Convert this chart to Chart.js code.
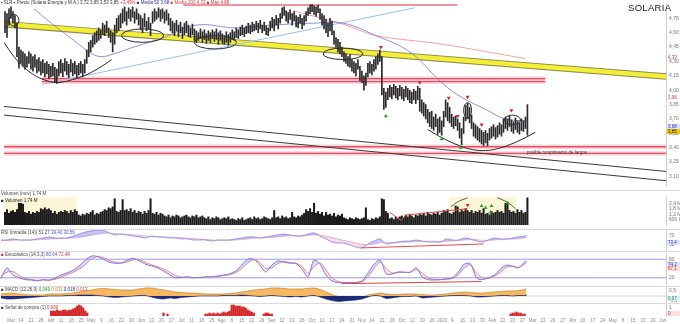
<!DOCTYPE html>
<html><head><meta charset="utf-8">
<script src="https://cdn.jsdelivr.net/npm/chart.js@4.4.1/dist/chart.umd.min.js"></script>
<style>
html,body{margin:0;padding:0;background:#fff;}
body{width:680px;height:324px;position:relative;overflow:hidden;font-family:"Liberation Sans",Arial,sans-serif;}
canvas{position:absolute;left:0;}
.t{position:absolute;white-space:nowrap;line-height:1;color:#444;font-size:4.5px;z-index:5}
.sep{position:absolute;left:0;width:680px;height:1px;background:#dadada;z-index:1}
.lab{position:absolute;left:667px;width:13px;font-size:4.5px;line-height:5px;z-index:6;padding-left:1px}
</style></head><body>
<canvas id="cMain" width="680" height="190" style="top:0"></canvas>
<canvas id="cVol" width="680" height="39" style="top:190px"></canvas>
<canvas id="cRsi" width="680" height="22" style="top:229px"></canvas>
<canvas id="cSto" width="680" height="35" style="top:251px"></canvas>
<canvas id="cMacd" width="680" height="17" style="top:286px"></canvas>
<canvas id="cSig" width="680" height="21" style="top:303px"></canvas>
<div class="sep" style="top:190px"></div>
<div class="sep" style="top:229px"></div>
<div class="sep" style="top:251px"></div>
<div class="sep" style="top:286px"></div>
<div class="sep" style="top:303px"></div>

<div class="t" style="left:1px;top:1px"><span style="color:#333">▪ SLR ▪ Precio (Solaria Energía y M.A.) 3,72 3,85 3,53 3,85</span> <span style="color:#d03838">+3,49%</span> <span style="color:#2a2a9a">■ Media 50 3,68</span> <span style="color:#d04848">■ Media 200 4,33</span> <span style="color:#d03030">■ Máx 4,89</span></div>
<div class="t" style="left:628px;top:3px;font-size:9.5px;color:#222;letter-spacing:0.3px">SOLARIA</div>
<div class="t" style="left:527px;top:151px;font-size:4.5px;color:#333">posible rompimiento de largos</div>
<div class="t" style="left:1px;top:192px">Volumen (mov) 1,74 M</div>
<div class="t" style="left:1px;top:199px;color:#222">■ Volumen 1,74 M</div>
<div class="t" style="left:1px;top:231px">RSI (Intradía (14)) 51,27 <span style="color:#5050d0">39,40 30,56</span></div>
<div class="t" style="left:1px;top:253px"><span style="color:#c03030">■</span> Estocástico (14,3,3) <span style="color:#5050d0">80,64</span> <span style="color:#d04040">72,48</span></div>
<div class="t" style="left:1px;top:288px">■ MACD (12,26,9) <span style="color:#2a9a2a">0,049</span> <span style="color:#d08020">0,031</span> <span style="color:#2a2a9a">0,018</span> <span style="color:#d04040">0,013</span></div>
<div class="t" style="left:1px;top:306px">■ Señal de compra (1) <span style="color:#d03030">0,000</span></div>

<div class="lab" style="top:55px;color:#d03838">4,33</div>
<div class="lab" style="top:95px;color:#d03838">3,96</div>
<div class="lab" style="top:124px;color:#3030c0;background:#e0e4ff">3,68</div>
<div class="lab" style="top:129px;color:#222;background:#f2c800">3,85</div>
<div class="lab" style="top:240px;color:#3030c0;background:#e0e4ff">73,4</div>
<div class="lab" style="top:262px;color:#3030c0;background:#e0e4ff">74,2</div>
<div class="lab" style="top:266px;color:#c03030;background:#ffe0e0">67,1</div>
<div class="lab" style="top:296px;color:#208080;background:#d8f4f4">0,07</div>
<div class="lab" style="top:311px;color:#c03030;background:#ffe0e0">0</div>

<script>
// ---------- DATA ----------
const weekIdx = Array.from({length:66},(_,k)=>5+5*k);
const weekLabels = ["Mar","14","21","28","Abr","11","18","25","May","9","16","23","30","Jun","13","20","27","Jul","11","18","25","Ago","8","15","22","29","Sep","12","19","26","Oct","10","17","24","31","Nov","14","21","28","Dic","12","19","26","2023","9","16","23","30","Feb","13","20","27","Mar","13","20","27","Abr","10","17","24","May","8","15","22","29","Jun"];

const priceHigh = [
4.82,4.80,4.85,4.87,4.82,4.78,4.70,4.45,4.42,4.40,
4.38,4.35,4.40,4.38,4.35,4.37,4.32,4.34,4.30,4.32,
4.28,4.30,4.27,4.25,4.28,4.24,4.22,4.30,4.32,4.28,
4.33,4.30,4.27,4.32,4.28,4.30,4.26,4.28,4.30,4.27,
4.32,4.42,4.50,4.52,4.57,4.60,4.62,4.65,4.63,4.70,
4.68,4.72,4.65,4.62,4.60,4.68,4.75,4.78,4.80,4.85,
4.87,4.82,4.86,4.84,4.87,4.82,4.85,4.80,4.78,4.75,
4.80,4.72,4.76,4.70,4.82,4.85,4.82,4.86,4.84,4.85,
4.82,4.84,4.80,4.75,4.72,4.70,4.73,4.68,4.71,4.66,
4.70,4.72,4.68,4.65,4.69,4.64,4.62,4.60,4.64,4.61,
4.63,4.59,4.62,4.60,4.63,4.61,4.64,4.60,4.62,4.59,
4.57,4.61,4.58,4.60,4.63,4.61,4.65,4.63,4.66,4.68,
4.65,4.67,4.70,4.68,4.71,4.69,4.72,4.70,4.73,4.68,
4.71,4.67,4.65,4.72,4.76,4.74,4.78,4.75,4.80,4.86,
4.87,4.83,4.81,4.84,4.80,4.82,4.78,4.76,4.79,4.75,
4.78,4.82,4.86,4.89,4.90,4.88,4.87,4.89,4.85,4.80,
4.78,4.74,4.70,4.75,4.72,4.62,4.55,4.53,4.50,4.45,
4.40,4.38,4.35,4.37,4.32,4.30,4.28,4.32,4.25,4.20,
4.15,4.18,4.28,4.30,4.27,4.32,4.35,4.38,4.42,4.35,
4.02,3.98,4.02,4.05,4.03,4.06,4.04,4.02,4.05,4.03,
4.01,4.04,4.02,4.00,3.98,4.01,3.99,4.04,4.02,3.90,
3.87,3.85,3.80,3.77,3.78,3.72,3.75,3.70,3.72,3.68,
3.78,3.90,3.87,3.82,3.75,3.72,3.73,3.70,3.66,3.60,
3.72,3.84,3.86,3.82,3.74,3.66,3.64,3.62,3.60,3.58,
3.56,3.58,3.55,3.60,3.62,3.64,3.61,3.63,3.66,3.64,
3.70,3.72,3.70,3.73,3.69,3.67,3.71,3.68,3.66,3.70,
3.68,3.72,3.85];
const priceLow = [
4.60,4.55,4.68,4.75,4.70,4.65,4.35,4.23,4.28,4.25,
4.22,4.24,4.28,4.22,4.20,4.24,4.18,4.20,4.16,4.18,
4.14,4.17,4.12,4.14,4.15,4.08,4.07,4.15,4.18,4.14,
4.20,4.16,4.13,4.19,4.15,4.17,4.13,4.16,4.18,4.14,
4.18,4.28,4.35,4.40,4.45,4.48,4.50,4.52,4.54,4.58,
4.57,4.60,4.55,4.50,4.40,4.48,4.60,4.62,4.65,4.70,
4.72,4.68,4.75,4.72,4.76,4.70,4.74,4.68,4.63,4.60,
4.66,4.62,4.64,4.57,4.70,4.72,4.74,4.76,4.72,4.75,
4.70,4.73,4.68,4.62,4.60,4.57,4.62,4.56,4.60,4.54,
4.58,4.60,4.56,4.55,4.58,4.52,4.50,4.52,4.54,4.50,
4.53,4.49,4.52,4.50,4.54,4.51,4.53,4.48,4.52,4.49,
4.48,4.50,4.47,4.50,4.53,4.52,4.55,4.54,4.57,4.58,
4.56,4.59,4.60,4.59,4.61,4.62,4.63,4.60,4.64,4.60,
4.62,4.58,4.57,4.62,4.65,4.62,4.68,4.64,4.70,4.75,
4.78,4.72,4.70,4.74,4.68,4.72,4.66,4.65,4.70,4.64,
4.68,4.72,4.78,4.80,4.82,4.79,4.77,4.81,4.74,4.68,
4.64,4.60,4.56,4.62,4.58,4.48,4.45,4.40,4.38,4.35,
4.30,4.28,4.25,4.24,4.20,4.18,4.15,4.22,4.10,4.08,
4.00,4.05,4.14,4.18,4.16,4.20,4.22,4.27,4.30,3.95,
3.80,3.82,3.90,3.93,3.91,3.95,3.92,3.90,3.94,3.91,
3.89,3.93,3.90,3.87,3.86,3.90,3.86,3.90,3.78,3.76,
3.73,3.70,3.66,3.62,3.60,3.58,3.62,3.54,3.56,3.53,
3.62,3.72,3.68,3.66,3.62,3.60,3.63,3.58,3.50,3.43,
3.55,3.68,3.70,3.66,3.60,3.52,3.50,3.48,3.46,3.44,
3.42,3.45,3.42,3.48,3.50,3.52,3.49,3.51,3.54,3.52,
3.56,3.60,3.58,3.62,3.57,3.55,3.59,3.56,3.54,3.58,
3.57,3.60,3.53];
// volume in units of 100K shares
const volume = [
14,17,13,15,16,14,17,24,24,23,
14,13,15,12,14,13,15,14,18,17,
19,17,18,16,13,15,12,14,15,14,
16,15,13,16,14,17,15,11,10,12,
11,13,12,14,16,11,13,12,14,15,
17,16,19,18,20,29,15,14,16,28,
16,17,15,18,14,16,13,15,14,12,
15,13,16,29,13,12,14,11,13,12,
10,9,11,8,10,9,11,10,8,9,
10,11,9,8,10,9,11,8,9,10,
8,7,9,6,8,7,9,8,6,7,
8,7,9,6,7,6,5,7,6,8,
5,6,7,8,6,9,7,8,6,7,
9,8,7,6,8,16,8,9,7,10,
8,9,7,8,14,9,8,10,9,11,
13,17,15,18,14,24,13,15,12,14,
10,14,11,12,10,13,9,11,10,12,
8,7,6,8,7,6,8,7,6,7,
8,19,6,5,7,6,8,7,9,29,
28,15,13,7,8,6,9,7,9,10,
8,11,9,12,10,8,11,10,12,11,
13,10,14,12,11,13,12,14,11,13,
16,15,17,13,12,14,21,20,14,17,
15,18,16,14,16,13,15,14,16,13,
18,12,13,11,15,13,14,16,14,15,
13,24,25,16,14,15,13,17,14,16,
13,14,30];

// moving averages (sampled)
const ma50Idx = [14.5,22,29.5,37,42,48,54.5,64.5,79.5,96,116,134.5,154.5,169.5,186,203,219.5,229.5,241,251,262];
const ma50 = [4.85,4.72,4.60,4.48,4.40,4.35,4.38,4.45,4.55,4.68,4.65,4.68,4.70,4.70,4.57,4.40,4.07,3.92,3.80,3.70,3.68];
const ma200Idx = [144.5,169.5,186,219.5,261];
const ma200 = [4.83,4.69,4.57,4.48,4.33];

// drawn studies (trendlines, levels, arcs)
const yellowIdx = [-0.5,333.5], yellowVal = [4.69,4.14];
const blueTrendIdx = [18.5,205.5], blueTrendVal = [4.06,4.86];
const channelIdx = [-0.5,331.5], channelUp = [3.83,3.152], channelLow = [3.74,3.055];
const resIdx = [18.5,271], resHi = 4.12, resLo = 4.09;
const supIdx = [-0.5,331.5], supHi = 3.41, supLo = 3.34;
const topLineIdx = [89.5,227], topLineVal = 4.89;
const arcLIdx = [-0.5,4.5,9.5,14.5,19.5,25.5,32,39.5,47,53.5];
const arcLVal = [4.50,4.35,4.24,4.16,4.11,4.08,4.10,4.15,4.23,4.32];
const arcRIdx = [212,219.5,228,234.5,241,247,253,259.5,266];
const arcRVal = [3.59,3.50,3.42,3.38,3.37,3.39,3.43,3.49,3.56];
// ellipses: [centre index, centre price, half width (bars), half height (price)]
const ellipses = [[69,4.57,10.5,0.07],[105.5,4.50,10.5,0.07],[169.5,4.38,10,0.06],[4.5,4.73,2.5,0.06],[254.5,3.69,4,0.05],[232,3.79,2,0.08]];
const sellIdx = [188.5,208,222.5,232,227,239,254];
const sellVal = [4.45,4.08,3.92,3.93,3.73,3.64,3.79];
const buyIdx = [191,219,228.5];
const buyVal = [3.73,3.49,3.40];
const priceTicks = [3.10,3.25,3.40,3.55,3.70,3.85,4.00,4.15,4.30,4.45,4.60,4.75];

// volume studies
const volBoxes = [[-0.5,36,14,31],[223,256,6,31]];
const volRedIdx = [193,198.5,201,232], volRedVal = [14,5,11,18];
const volArc1Idx = [223.5,227.5,232], volArc1Val = [20,26,30];
const volArc2Idx = [247,252,256], volArc2Val = [30,25,18];
const volSellIdx = [232], volSellVal = [22];
const volBuyIdx = [239,241,244,243.5,252], volBuyVal = [21,19,21,14,24];

// oscillators sampled every 3 sessions
const oscIdx = Array.from({length:88},(_,k)=>k*3).concat([262]);
const rsi = [
50,50,55,50,50,50,55,59,64,59,
59,59,68,77,86,91,95,95,82,73,
77,73,68,64,59,68,64,64,59,59,
55,55,50,50,50,45,50,50,50,55,
59,64,64,59,64,68,73,77,73,68,
68,77,82,68,55,41,36,36,27,18,
14,32,45,55,32,36,41,45,45,50,
45,41,41,41,55,50,50,59,55,45,
41,50,59,55,55,59,64,68,73];
const rsiSignal = [
48,48,49,50,50,50,51,52,54,56,
57,58,59,62,66,71,76,80,81,79,
77,75,73,71,68,66,65,64,63,62,
60,58,56,54,52,50,49,49,49,50,
52,55,58,59,60,62,64,67,69,69,
69,71,73,72,67,61,54,48,42,36,
30,29,32,37,38,38,39,40,41,43,
44,44,43,42,44,46,47,50,52,51,
49,48,50,52,53,54,56,59,61];
const rsiTrendIdx = [179.5,240.5], rsiTrendVal = [14,32];
const stochK = [
17,52,29,20,14,13,10,14,12,19,
29,36,45,58,77,90,89,80,70,67,
68,77,83,74,64,58,52,42,30,20,
21,23,20,21,23,23,26,29,33,42,
61,80,80,61,39,61,74,71,67,66,
48,23,77,64,29,10,4,4,4,5,
10,36,64,77,33,32,39,38,38,52,
23,14,13,14,17,20,39,64,65,20,
14,20,29,48,61,57,52,71,74];
const stochD = [
25,38,40,27,18,15,12,13,13,15,
22,30,38,48,62,80,88,85,76,70,
67,71,78,78,70,62,56,48,38,27,
22,22,21,21,22,23,24,27,30,37,
50,68,78,70,50,52,66,72,69,67,
57,35,55,69,45,20,8,5,4,5,
7,24,50,70,50,36,37,38,38,46,
35,20,15,14,15,18,30,52,62,35,
20,18,25,38,54,58,54,64,67];
const stochLevels = [80,20];
const stochTrendIdx = [169.5,239.5], stochTrendVal = [1,8];
const macd = [
0.2,0.25,0.3,0.2,0.15,0.1,0.1,0.1,0.2,0.2,
0.2,0.25,0.3,0.4,0.5,0.6,0.7,0.75,0.7,0.65,
0.6,0.6,0.6,0.7,0.8,0.8,0.7,0.6,0.5,0.4,
0.35,0.3,0.3,0.25,0.2,0.2,0.2,0.2,0.25,0.3,
0.4,0.5,0.6,0.65,0.7,0.8,0.8,0.75,0.7,0.7,
0.7,0.75,0.8,0.65,0.4,0.15,-0.05,-0.15,-0.2,-0.2,
-0.15,0.1,0.2,0.3,0.2,0.15,0.15,0.2,0.2,0.2,
0.15,0.1,0.1,0.15,0.2,0.3,0.35,0.4,0.35,0.3,
0.3,0.35,0.4,0.45,0.5,0.5,0.55,0.65,0.7];
const macdHist = [
-0.2,-0.3,-0.3,-0.25,-0.2,-0.15,-0.1,-0.05,0,0,
0,0.05,0.05,0.1,0.1,0.1,0.05,0,-0.1,-0.15,
-0.1,-0.05,0,0.05,0.05,-0.1,-0.25,-0.3,-0.2,-0.25,
-0.15,-0.1,-0.05,0,0,0,0,0.05,0.05,0.05,
0.1,0.05,0,-0.05,0,0.05,0,-0.05,-0.1,-0.05,
-0.1,0,0.05,-0.1,-0.3,-0.45,-0.55,-0.5,-0.45,-0.4,
-0.3,-0.1,0.05,0,-0.25,-0.2,-0.1,-0.05,-0.05,0,
-0.2,-0.15,-0.1,-0.05,0,0.05,0.05,0.05,0,-0.1,
-0.1,-0.05,0,0.05,0.05,0,0.05,0.05,0.1];
const sigIdx = [25,26,27,28,29,30,31,32,33,34,35,36,37,38,39,40,41,42,43,81,83,
102,103,104,105,106,107,108,109,110,111,112,113,114,115,116,117,118,119,120,121,122,123,124,125,126,
131,132,133,134,135,254,255,256,257,258,259,260,261];
const sigVal = [5,5,5,6,5,5,6,6,5,6,6,7,8,10,11,10,8,5,3,3,2,
2,2,3,2,3,2,3,2,3,4,3,4,5,11,11,10,10,10,9,9,8,6,5,4,3,
2,3,3,2,2,2,3,3,4,3,3,2,2];

// ---------- HELPERS ----------
const FONT = {size:5, family:'Liberation Sans'};
const xy = (xs, ys) => xs.map((x,k)=>({x, y: Array.isArray(ys) ? ys[k] : ys}));
function xScale(show){
  return {type:'linear', min:-0.5, max:331.5, offset:false, display:show,
    grid:{display:false, drawTicks:false}, border:{display:false},
    afterBuildTicks:s=>{ s.ticks = weekIdx.map(v=>({value:v})); },
    ticks:{autoSkip:false, maxRotation:0, minRotation:0, font:{size:4.5, family:'Liberation Sans'}, color:'#8a8a8a', padding:2,
      callback:(v)=>{ const k = weekIdx.indexOf(v); return k>=0 ? weekLabels[k] : ''; }},
    afterFit:s=>{ s.paddingLeft=0; s.paddingRight=0; if(show) s.height=8; }};
}
function yScale(min, max, ticks, fmt){
  return {position:'right', min, max, grid:{display:false, drawTicks:false}, border:{display:true, color:'#cfcfcf'},
    afterBuildTicks:s=>{ s.ticks = ticks.map(v=>({value:v})); },
    ticks:{font:FONT, color:'#777', padding:3, autoSkip:false, callback:fmt},
    afterFit:s=>{ s.width=14; s.paddingTop=0; s.paddingBottom=0; }};
}
const comma = (v,d)=>Number(v).toFixed(d).replace('.',',');
function base(scales, padding, plugins){
  return {responsive:false, animation:false, events:[], layout:{padding:Object.assign({left:0,right:0,top:0,bottom:0},padding||{})},
    plugins:Object.assign({legend:{display:false}, tooltip:{enabled:false}}, plugins||{}), scales};
}
const line = (pts, color, width, order, extra) => Object.assign({type:'line', data:pts, borderColor:color, borderWidth:width, pointRadius:0, fill:false, order, tension:0}, extra||{});

const ellipsePlugin = {id:'ellipses', afterDatasetsDraw(chart, args, opts){
  if(!opts || !opts.items) return;
  const {ctx, scales:{x,y}} = chart;
  ctx.save();
  opts.items.forEach(e=>{
    const cx = x.getPixelForValue(e[0]), cy = y.getPixelForValue(e[1]);
    const rx = Math.abs(x.getPixelForValue(e[0]+e[2])-cx), ry = Math.abs(y.getPixelForValue(e[1]+e[3])-cy);
    ctx.beginPath(); ctx.ellipse(cx, cy, rx, ry, 0, 0, Math.PI*2);
    ctx.strokeStyle = opts.color || '#222'; ctx.lineWidth = 1; ctx.stroke();
  });
  ctx.restore();
}};
const boxPlugin = {id:'boxes', beforeDatasetsDraw(chart, args, opts){
  if(!opts || !opts.items) return;
  const {ctx, scales:{x,y}} = chart;
  ctx.save(); ctx.fillStyle = opts.color || '#fbf6d8';
  opts.items.forEach(b=>{
    const x0 = x.getPixelForValue(b[0]), x1 = x.getPixelForValue(b[1]);
    const y0 = y.getPixelForValue(b[3]), y1 = y.getPixelForValue(b[2]);
    ctx.fillRect(x0, y0, x1-x0, y1-y0);
  });
  ctx.restore();
}};
Chart.register(ellipsePlugin, boxPlugin);

// ---------- MAIN PRICE PANEL ----------
new Chart(document.getElementById('cMain'), {
  type:'bar',
  data:{datasets:[
    {type:'scatter', data:xy(sellIdx, sellVal), pointStyle:'triangle', rotation:180, pointRadius:2.3, backgroundColor:'#e02020', borderWidth:0, order:1},
    {type:'scatter', data:xy(buyIdx, buyVal), pointStyle:'triangle', pointRadius:2.3, backgroundColor:'#22a022', borderWidth:0, order:1},
    line(xy(arcLIdx, arcLVal), '#2a2a2a', 1, 4, {tension:0.4}),
    line(xy(arcRIdx, arcRVal), '#2a2a2a', 1, 4, {tension:0.4}),
    {type:'bar', data:priceHigh.map((h,i)=>({x:i, y:[priceLow[i], h]})), backgroundColor:'#2a2a2a', barThickness:1, grouped:false, order:10},
    line(xy(ma50Idx, ma50), 'rgba(125,125,220,0.85)', 1, 27, {tension:0.4}),
    line(xy(ma200Idx, ma200), 'rgba(236,130,135,0.75)', 1, 28, {tension:0.3}),
    line(xy(blueTrendIdx, blueTrendVal), '#98bef0', 1, 30),
    line(xy(yellowIdx, yellowVal), '#f3ee38', 4.5, 34),
    line(xy(yellowIdx, yellowVal), '#8d8a4a', 6.5, 35),
    line(xy(channelIdx, channelUp), '#3a3a3a', 1, 40),
    line(xy(channelIdx, channelLow), '#3a3a3a', 1, 40),
    line(xy(resIdx, resHi), '#ee4a62', 1.3, 45),
    line(xy(resIdx, resLo), '#ee4a62', 1.3, 45),
    line(xy(supIdx, supHi), '#ee4a62', 1.3, 45),
    line(xy(supIdx, supLo), '#ee4a62', 1.3, 45),
    line(xy(resIdx, resHi), 'rgba(250,175,185,0.45)', 5, 50),
    line(xy(resIdx, resLo), 'rgba(250,175,185,0.45)', 5, 50),
    line(xy(supIdx, supHi), 'rgba(250,175,185,0.45)', 5, 50),
    line(xy(supIdx, supLo), 'rgba(250,175,185,0.45)', 5, 50),
    line(xy(topLineIdx, topLineVal), 'rgba(240,120,130,0.8)', 2, 46)
  ]},
  options: base({x:xScale(false), y:yScale(3.00, 4.90, priceTicks, v=>comma(v,2))}, null,
    {ellipses:{items:ellipses, color:'#2a2a2a'}})
});

// ---------- VOLUME ----------
new Chart(document.getElementById('cVol'), {
  type:'bar',
  data:{datasets:[
    {type:'scatter', data:xy(volSellIdx, volSellVal), pointStyle:'triangle', rotation:180, pointRadius:2.2, backgroundColor:'#e02020', borderWidth:0, order:1},
    {type:'scatter', data:xy(volBuyIdx, volBuyVal), pointStyle:'triangle', pointRadius:2.2, backgroundColor:'#22a022', borderWidth:0, order:1},
    line(xy(volRedIdx, volRedVal), '#e84a4a', 1, 2),
    line(xy(volArc1Idx, volArc1Val), '#333', 0.8, 2, {tension:0.4}),
    line(xy(volArc2Idx, volArc2Val), '#333', 0.8, 2, {tension:0.4}),
    {type:'bar', data:volume.map((v,i)=>({x:i, y:v})), backgroundColor:'#1c1c1c', barThickness:1.4, grouped:false, order:10}
  ]},
  options: base({x:xScale(false), y:yScale(0, 32, [6,12,18,24], v=>v<10?(v*100)+' K':comma(v/10,1)+' M')}, {top:6,bottom:1},
    {boxes:{items:volBoxes, color:'#fbf6d6'}})
});

// ---------- RSI ----------
new Chart(document.getElementById('cRsi'), {
  type:'line',
  data:{datasets:[
    line(xy(rsiTrendIdx, rsiTrendVal), '#e84a4a', 1, 1),
    line(xy(oscIdx, rsi), 'rgba(120,120,225,0.9)', 0.8, 3, {tension:0.3, fill:{target:'+1', above:'rgba(150,150,238,0.55)', below:'rgba(236,175,205,0.45)'}}),
    line(xy(oscIdx, rsiSignal), 'rgba(230,150,190,0.9)', 0.8, 4, {tension:0.3})
  ]},
  options: base({x:xScale(false), y:yScale(0, 100, [30,70], v=>String(v))})
});

// ---------- STOCHASTIC ----------
new Chart(document.getElementById('cSto'), {
  type:'line',
  data:{datasets:[
    line(xy(stochTrendIdx, stochTrendVal), '#e84040', 1, 1),
    line(xy(oscIdx, stochK), '#7676e4', 1, 2, {tension:0.3, fill:{target:'+1', above:'rgba(150,150,235,0.35)', below:'rgba(240,170,170,0.3)'}}),
    line(xy(oscIdx, stochD), '#ec8282', 1, 3, {tension:0.3}),
    line(xy([-0.5,331.5], stochLevels[0]), '#9a9ae6', 1, 5),
    line(xy([-0.5,331.5], stochLevels[1]), '#9a9ae6', 1, 5)
  ]},
  options: base({x:xScale(false), y:yScale(0, 100, [20,50,80], v=>String(v))}, {top:2,bottom:2})
});

// ---------- MACD ----------
new Chart(document.getElementById('cMacd'), {
  type:'line',
  data:{datasets:[
    line(xy(oscIdx, macdHist), '#1d2a78', 0.6, 1, {tension:0.3, fill:{target:'origin', above:'#1d2a78', below:'#1d2a78'}}),
    line(xy(oscIdx, macd), '#c98a34', 0.8, 2, {tension:0.3, fill:{target:'origin', above:'rgba(246,178,84,0.92)', below:'rgba(120,200,110,0.9)'}}),
    line(xy([-0.5,331.5], 0), '#b8b8b8', 0.6, 5)
  ]},
  options: base({x:xScale(false), y:yScale(-0.7, 1.0, [0.5,-0.5], v=>comma(v,1))})
});

// ---------- BUY SIGNAL BARS + DATE AXIS ----------
new Chart(document.getElementById('cSig'), {
  type:'bar',
  data:{datasets:[
    {type:'bar', data:xy(sigIdx, sigVal), backgroundColor:'#d42828', barThickness:1.6, grouped:false}
  ]},
  options: base({x:xScale(true), y:yScale(0, 13, [8], v=>'1')})
});
</script>
</body></html>
